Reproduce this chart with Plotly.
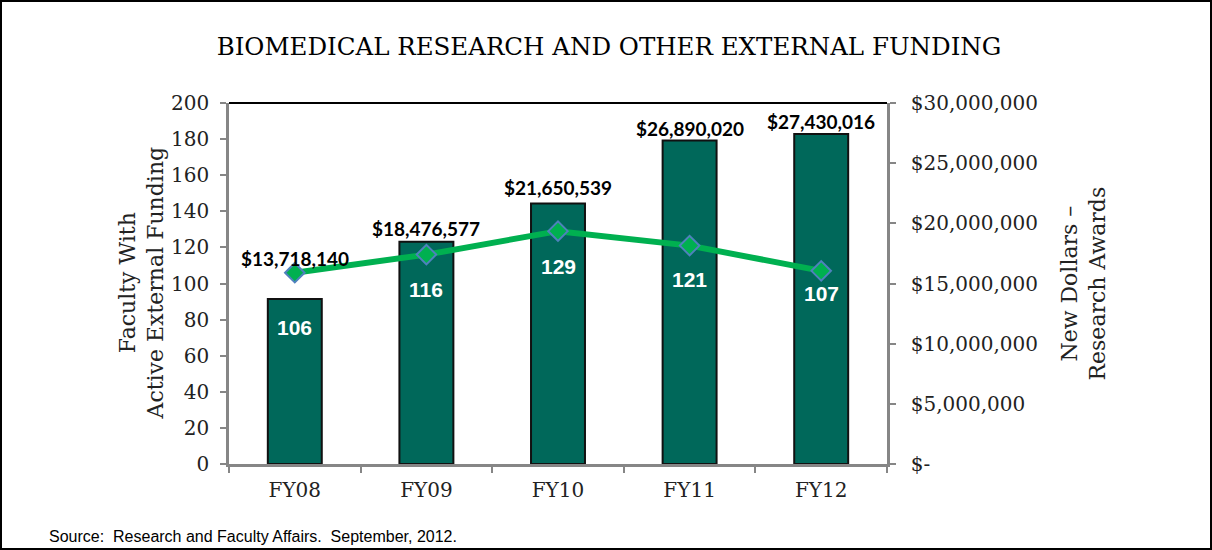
import plotly.graph_objects as go

# data
years = ["FY08", "FY09", "FY10", "FY11", "FY12"]
faculty_counts = [106, 116, 129, 121, 107]
award_dollars = [13718140, 18476577, 21650539, 26890020, 27430016]
dollar_ticks = [0, 5000000, 10000000, 15000000, 20000000, 25000000, 30000000]
count_ticks = list(range(0, 201, 20))

# label offsets (pixels) - hand placed in the original
bar_label_shift = [40, 13, 16, 12, 12]
line_label_shift = [-55, -35, -35, -34, -23]

W, H = 1212, 550
L, R, T, B = 229, 325, 103, 86
PW, PH = W - L - R, H - T - B


def px_x(px):
    return (px - L) / PW


def px_y(py):
    return (H - B - py) / PH


AXIS_GRAY = "#868686"
SERIF = "DejaVu Serif"

fig = go.Figure()

# bars: new award dollars (right axis)
fig.add_trace(go.Bar(
    x=years,
    y=award_dollars,
    width=0.41,
    marker=dict(color="#00685A", line=dict(color="#111111", width=2)),
    yaxis="y",
    showlegend=False,
))

# line: faculty with active external funding (left axis)
fig.add_trace(go.Scatter(
    x=years,
    y=faculty_counts,
    mode="lines+markers",
    line=dict(color="#00B050", width=6),
    marker=dict(symbol="diamond", size=15, color="#00B050",
                line=dict(color="#4F81BD", width=2)),
    yaxis="y2",
    showlegend=False,
))

annotations = []
for yr, val, sh in zip(years, award_dollars, bar_label_shift):
    annotations.append(dict(
        x=yr, y=val, xref="x", yref="y", yshift=sh, yanchor="middle",
        text=f"${val:,}", showarrow=False,
        font=dict(family="Lato", size=19, color="#000000", weight="bold"),
    ))
for yr, val, sh in zip(years, faculty_counts, line_label_shift):
    annotations.append(dict(
        x=yr, y=val, xref="x", yref="y2", yshift=sh, yanchor="middle",
        text=str(val), showarrow=False,
        font=dict(family="Liberation Sans", size=21, color="#FFFFFF", weight="bold"),
    ))

# axis titles
annotations.append(dict(
    x=px_x(141), y=0.5, xref="paper", yref="paper", textangle=-90,
    text="Faculty With<br>Active External Funding", showarrow=False,
    xanchor="center", yanchor="middle",
    font=dict(family=SERIF, size=22, color="#222222"),
))
annotations.append(dict(
    x=px_x(1083), y=0.5, xref="paper", yref="paper", textangle=-90,
    text="New Dollars –<br>Research Awards", showarrow=False,
    xanchor="center", yanchor="middle",
    font=dict(family=SERIF, size=22, color="#222222"),
))
# source note
annotations.append(dict(
    x=px_x(47), y=px_y(536), xref="paper", yref="paper",
    text="Source:  Research and Faculty Affairs.  September, 2012.",
    showarrow=False, xanchor="left", yanchor="middle",
    font=dict(family="Liberation Sans", size=16, color="#000000"),
))

shapes = [
    # top border of the plot area
    dict(type="line", xref="paper", yref="paper", x0=0, x1=1, y0=1, y1=1,
         line=dict(color="#000000", width=2)),
    # frame around the whole chart
    dict(type="rect", xref="paper", yref="paper",
         x0=px_x(1), x1=px_x(W - 1), y0=px_y(H - 1), y1=px_y(1),
         line=dict(color="#000000", width=2), layer="below"),
]

fig.update_layout(
    width=W,
    height=H,
    margin=dict(l=L, r=R, t=T, b=B),
    plot_bgcolor="white",
    paper_bgcolor="white",
    title=dict(
        text="BIOMEDICAL RESEARCH AND OTHER EXTERNAL FUNDING",
        x=609 / W, xanchor="center", y=1 - 46 / H, yanchor="middle",
        yref="container",
        font=dict(family=SERIF, size=24.5, color="#000000"),
    ),
    xaxis=dict(
        showline=True, linecolor=AXIS_GRAY, linewidth=2.5,
        ticks="outside", tickson="boundaries", ticklen=6, tickwidth=2,
        tickcolor=AXIS_GRAY, showgrid=False,
        tickfont=dict(family=SERIF, size=20, color="#222222"),
        ticklabelstandoff=6,
    ),
    yaxis=dict(
        side="right", range=[0, 30000000],
        tickvals=dollar_ticks,
        ticktext=["$-" if v == 0 else f"${v:,}" for v in dollar_ticks],
        showline=True, linecolor=AXIS_GRAY, linewidth=2.5,
        ticks="outside", ticklen=6, tickwidth=2, tickcolor=AXIS_GRAY,
        showgrid=False, zeroline=False,
        tickfont=dict(family=SERIF, size=20, color="#222222"),
        ticklabelstandoff=11,
    ),
    yaxis2=dict(
        overlaying="y", side="left", range=[0, 200],
        tickvals=count_ticks,
        showline=True, linecolor=AXIS_GRAY, linewidth=2.5,
        ticks="outside", ticklen=6, tickwidth=2, tickcolor=AXIS_GRAY,
        showgrid=False, zeroline=False,
        tickfont=dict(family=SERIF, size=20, color="#222222"),
        ticklabelstandoff=7,
    ),
    annotations=annotations,
    shapes=shapes,
    bargap=0.59,
)

# drop the default page margin so the chart sits at the window origin
fig.write_html("out.html", config={"displayModeBar": False},
               post_script="document.body.style.margin='0';")
